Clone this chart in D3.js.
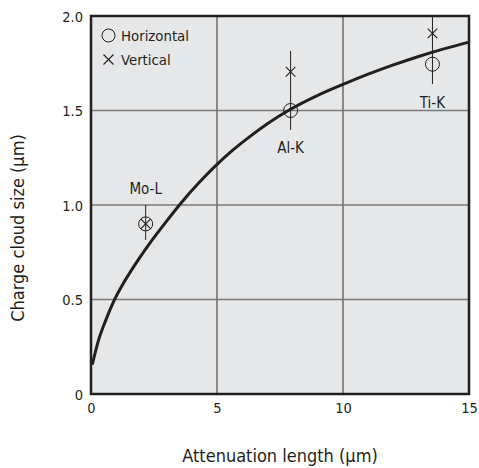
<!DOCTYPE html>
<html>
<head>
<meta charset="utf-8">
<script src="https://cdn.jsdelivr.net/npm/d3@7"></script>
<style>
  html, body { margin: 0; padding: 0; background: #fff; }
  svg { display: block; }
  text { font-family: "DejaVu Sans Condensed", "DejaVu Sans", sans-serif; font-stretch: condensed; fill: #231f20; }
</style>
</head>
<body>
<svg id="chart" width="479" height="468"></svg>
<script>
// ---- data ----
const xTicks = [0, 5, 10, 15];
const yTicks = [0, 0.5, 1.0, 1.5, 2.0];
const yTickLabels = ["0", "0.5", "1.0", "1.5", "2.0"];
const xTickLabels = ["0", "5", "10", "15"];

const lines = ["Mo-L", "Al-K", "Ti-K"];
const lineX = [2.17, 7.92, 13.55];
const horizontal = [0.90, 1.50, 1.745];
const vertical = [0.90, 1.705, 1.908];
const errLow = [0.815, 1.397, 1.64];
const errHigh = [1.0, 1.815, 2.0];
const labelY = [1.06, 1.275, 1.515];

const curveX = [0.05, 0.3, 0.6, 0.9, 1.35, 1.9, 2.4, 3.0, 3.6, 4.3, 5.0, 5.65, 6.3, 7.0, 7.9, 9.0, 10.0, 11.0, 12.0, 13.0, 14.0, 15.0];
const curveY = [0.155, 0.285, 0.395, 0.49, 0.60, 0.715, 0.81, 0.915, 1.015, 1.12, 1.215, 1.293, 1.362, 1.43, 1.505, 1.58, 1.638, 1.692, 1.741, 1.786, 1.826, 1.862];

const legendNames = ["Horizontal", "Vertical"];

// ---- layout ----
const svg = d3.select("#chart");
const L = 91, R = 469, T = 16, B = 394;
const x = d3.scaleLinear().domain([0, 15]).range([L, R]);
const y = d3.scaleLinear().domain([0, 2]).range([B, T]);
const dark = "#231f20";

// plot background
svg.append("rect").attr("x", L).attr("y", T).attr("width", R - L).attr("height", B - T)
  .attr("fill", "#e6e7e8");

// grid
svg.append("g").selectAll("line").data(xTicks.filter(d => d > 0 && d < 15)).join("line")
  .attr("x1", d => x(d)).attr("x2", d => x(d)).attr("y1", T).attr("y2", B)
  .attr("stroke", "#7a7a7a").attr("stroke-width", 1.7);
svg.append("g").selectAll("line").data(yTicks.filter(d => d > 0 && d < 2)).join("line")
  .attr("y1", d => y(d)).attr("y2", d => y(d)).attr("x1", L).attr("x2", R)
  .attr("stroke", "#7a7a7a").attr("stroke-width", 1.7);

// axes (labels only)
const xAxis = d3.axisBottom(x).tickValues(xTicks).tickSize(0).tickPadding(0)
  .tickFormat((d, i) => xTickLabels[i]);
const gx = svg.append("g").attr("transform", `translate(0,${B})`).call(xAxis);
gx.select(".domain").remove();
gx.selectAll("text").attr("dy", null).attr("y", 19).style("font-size", "14.5px")
  .style("font-family", '"DejaVu Sans Condensed", "DejaVu Sans", sans-serif').attr("fill", dark);

const yAxis = d3.axisLeft(y).tickValues(yTicks).tickSize(0).tickPadding(0)
  .tickFormat((d, i) => yTickLabels[i]);
const gy = svg.append("g").attr("transform", `translate(${L},0)`).call(yAxis);
gy.select(".domain").remove();
gy.selectAll("text").attr("x", -8).attr("dy", "0.35em").style("font-size", "14.5px")
  .style("font-family", '"DejaVu Sans Condensed", "DejaVu Sans", sans-serif').attr("fill", dark);

// curve
const line = d3.line().x(d => x(d[0])).y(d => y(d[1])).curve(d3.curveMonotoneX);
svg.append("path").datum(curveX.map((v, i) => [v, curveY[i]]))
  .attr("d", line).attr("fill", "none").attr("stroke", dark).attr("stroke-width", 3);

// error bars
svg.append("g").selectAll("line").data(lines).join("line")
  .attr("x1", (d, i) => x(lineX[i])).attr("x2", (d, i) => x(lineX[i]))
  .attr("y1", (d, i) => y(errLow[i])).attr("y2", (d, i) => y(errHigh[i]))
  .attr("stroke", dark).attr("stroke-width", 1);

// markers
const crossPath = (cx, cy, s) => `M${cx - s},${cy - s}L${cx + s},${cy + s}M${cx - s},${cy + s}L${cx + s},${cy - s}`;
svg.append("g").selectAll("circle").data(lines).join("circle")
  .attr("cx", (d, i) => x(lineX[i])).attr("cy", (d, i) => y(horizontal[i])).attr("r", 7)
  .attr("fill", "none").attr("stroke", dark).attr("stroke-width", 1);
svg.append("g").selectAll("path").data(lines).join("path")
  .attr("d", (d, i) => crossPath(x(lineX[i]), y(vertical[i]), 4.8))
  .attr("fill", "none").attr("stroke", dark).attr("stroke-width", 1.1);

// line labels
svg.append("g").selectAll("text").data(lines).join("text")
  .attr("x", (d, i) => x(lineX[i])).attr("y", (d, i) => y(labelY[i]))
  .attr("text-anchor", "middle").style("font-size", "15px").text(d => d);

// frame
svg.append("rect").attr("x", L).attr("y", T).attr("width", R - L).attr("height", B - T)
  .attr("fill", "none").attr("stroke", dark).attr("stroke-width", 2.5);

// legend
const lg = svg.append("g");
lg.append("circle").attr("cx", 108.5).attr("cy", 35.5).attr("r", 6.5)
  .attr("fill", "none").attr("stroke", dark).attr("stroke-width", 1);
lg.append("path").attr("d", crossPath(108.5, 59.5, 5)).attr("fill", "none").attr("stroke", dark).attr("stroke-width", 1.1);
lg.selectAll("text").data(legendNames).join("text")
  .attr("x", 121).attr("y", (d, i) => 41 + i * 23.5)
  .style("font-size", "14.8px").text(d => d);

// axis titles
svg.append("text").attr("x", (L + R) / 2).attr("y", 462).attr("text-anchor", "middle")
  .style("font-size", "18px").text("Attenuation length (μm)");
svg.append("text").attr("transform", `translate(24,${(T + B) / 2 + 23}) rotate(-90)`)
  .attr("text-anchor", "middle").style("font-size", "18px").text("Charge cloud size (μm)");
</script>
</body>
</html>
